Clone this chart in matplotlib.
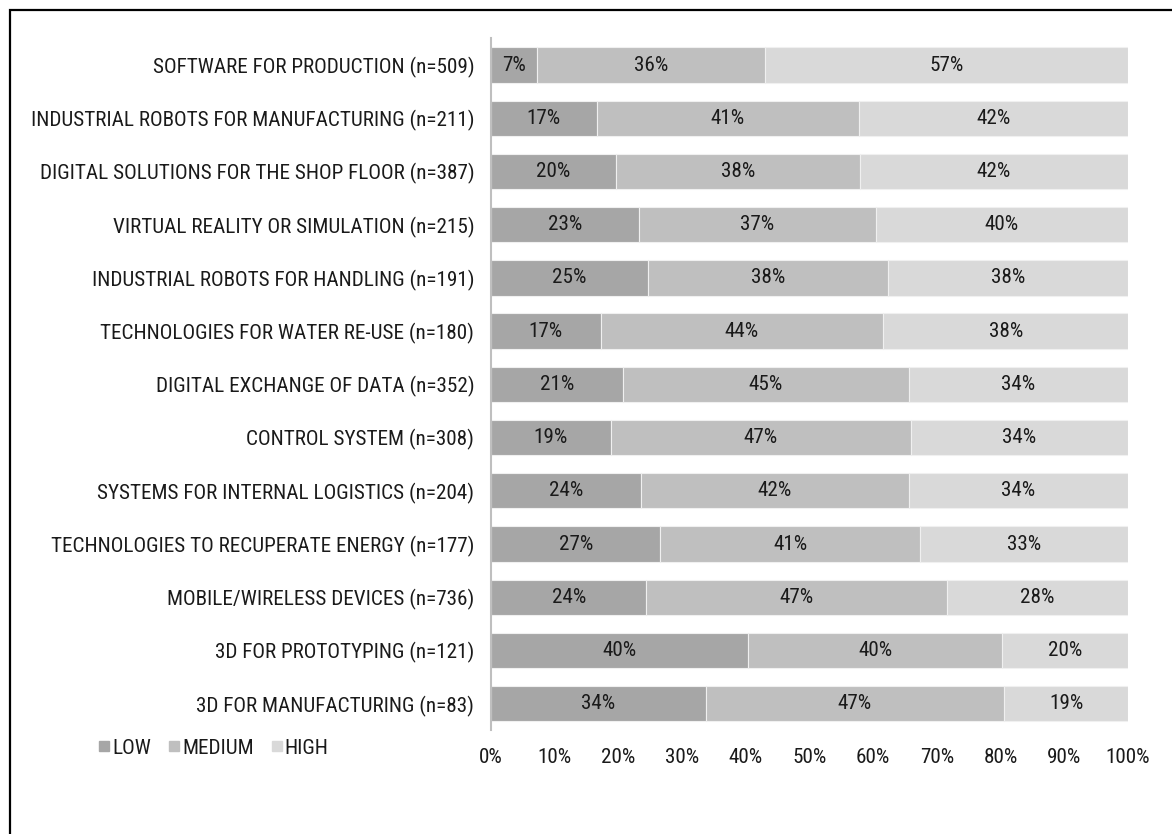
import matplotlib
matplotlib.use("Agg")
import matplotlib.pyplot as plt
from matplotlib.patches import Rectangle
from matplotlib.lines import Line2D
from matplotlib import font_manager

names = {f.name for f in font_manager.fontManager.ttflist}
FAM = [n for n in ["Liberation Sans Narrow", "Roboto Condensed", "Archivo Narrow"] if n in names][:1]
plt.rcParams["font.family"] = FAM + ["Liberation Sans", "DejaVu Sans"]

categories = [
    "SOFTWARE FOR PRODUCTION (n=509)",
    "INDUSTRIAL ROBOTS FOR MANUFACTURING (n=211)",
    "DIGITAL SOLUTIONS FOR THE SHOP FLOOR (n=387)",
    "VIRTUAL REALITY OR SIMULATION (n=215)",
    "INDUSTRIAL ROBOTS FOR HANDLING (n=191)",
    "TECHNOLOGIES FOR WATER RE-USE (n=180)",
    "DIGITAL EXCHANGE OF DATA (n=352)",
    "CONTROL SYSTEM (n=308)",
    "SYSTEMS FOR INTERNAL LOGISTICS (n=204)",
    "TECHNOLOGIES TO RECUPERATE ENERGY (n=177)",
    "MOBILE/WIRELESS DEVICES (n=736)",
    "3D FOR PROTOTYPING (n=121)",
    "3D FOR MANUFACTURING (n=83)",
]
low = [7.2, 16.6, 19.6, 23.2, 24.6, 17.2, 20.7, 18.8, 23.6, 26.6, 24.4, 40.4, 33.7]
medium = [35.8, 41.2, 38.3, 37.2, 37.7, 44.4, 44.9, 47.1, 42.0, 40.7, 47.2, 39.8, 46.9]
high = [57.0, 42.2, 42.1, 39.6, 37.7, 38.4, 34.4, 34.1, 34.4, 32.7, 28.4, 19.8, 19.4]
series_names = ["LOW", "MEDIUM", "HIGH"]
colors = ["#a6a6a6", "#bfbfbf", "#d9d9d9"]
xticks = [0, 10, 20, 30, 40, 50, 60, 70, 80, 90, 100]

W, H = 1172, 834
fig = plt.figure(figsize=(W / 100, H / 100), dpi=100)

# fit font size so the longest category label spans ~435 px, as in the reference
renderer = fig.canvas.get_renderer()
probe = fig.text(0, 0, "DIGITAL SOLUTIONS FOR THE SHOP FLOOR (n=387)", fontsize=14)
wpx = probe.get_window_extent(renderer).width
probe.remove()
FS = min(16.0, 14 * 435 / wpx)

ax = fig.add_axes([491 / W, 1 - 730.3 / H, 637 / W, 691.9 / H])

y = list(range(len(categories)))
left = [0.0] * len(categories)
TXT = "#1a1a1a"
for vals, col, name in zip([low, medium, high], colors, series_names):
    ax.barh(y, vals, left=left, height=0.665, color=col, edgecolor="#f0f0f0",
            linewidth=0.8, label=name)
    for yi, l, v in zip(y, left, vals):
        ax.text(l + v / 2, yi, f"{round(v):d}%", ha="center", va="center",
                fontsize=FS, color=TXT)
    left = [a + b for a, b in zip(left, vals)]

ax.set_ylim(len(categories) - 0.5, -0.5)
ax.set_xlim(0, 100)
ax.set_yticks(y)
ax.set_yticklabels(categories, fontsize=FS, color=TXT)
ax.set_xticks(xticks)
ax.set_xticklabels([f"{t}%" for t in xticks], fontsize=FS, color=TXT)
ax.tick_params(axis="both", length=0)
ax.tick_params(axis="y", pad=12)
ax.tick_params(axis="x", pad=13)
for s in ["top", "right", "bottom"]:
    ax.spines[s].set_visible(False)
ax.spines["left"].set_color("#bfbfbf")
ax.spines["left"].set_linewidth(1.5)

handles = [Line2D([], [], marker="s", linestyle="none", markersize=7,
                  markerfacecolor=c, markeredgecolor=c) for c in colors]
fig.legend(handles, series_names, loc="center left", bbox_to_anchor=(99 / W, 1 - 748 / H),
           ncol=3, frameon=False, fontsize=FS, handlelength=0.5, handletextpad=0.12,
           columnspacing=0.85, borderaxespad=0, borderpad=0, labelcolor=TXT)

fig.patches.append(Rectangle((10 / W, -0.05), 1.2, 1.05 - 10 / H, transform=fig.transFigure,
                             fill=False, edgecolor="black", linewidth=1.6))

fig.savefig("out.png", dpi=100)
